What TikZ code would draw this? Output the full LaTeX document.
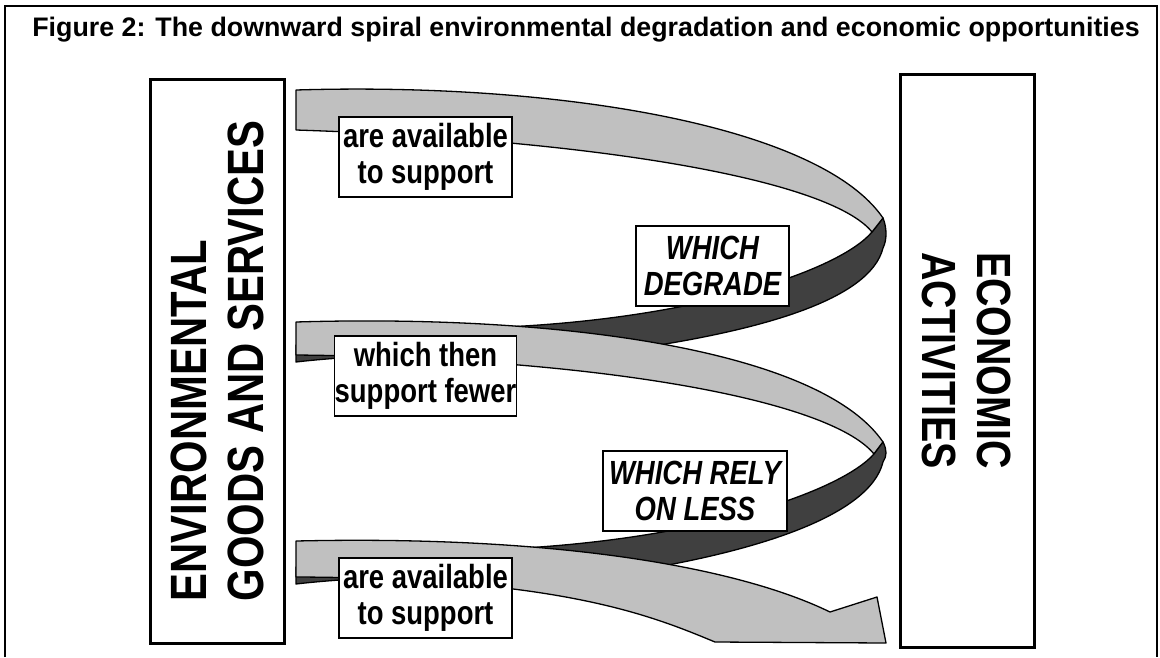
\documentclass[tikz,border=0pt]{standalone}
\usepackage{fontspec}
\setmainfont{Liberation Sans}
\newfontfamily\narrowfont[FakeStretch=0.82]{Liberation Sans}
\definecolor{ribbonlight}{HTML}{C0C0C0}
\definecolor{ribbondark}{HTML}{404040}

\begin{document}
\begin{tikzpicture}[x=1pt, y=-1pt,
  bigbox/.style={shape=rectangle, draw, line width=3pt, align=left, inner sep=0pt, minimum height=134pt},
  tag/.style={shape=rectangle, draw, fill=white, line width=1.3pt, align=center, inner sep=0pt, minimum height=80pt, font=\narrowfont\bfseries\fontsize{33.5}{36}\selectfont},
  frontface/.style={fill=ribbonlight, draw=black, line width=1.3pt, line join=round},
  backface/.style={fill=ribbondark, draw=black, line width=1.3pt, line join=round}]

\useasboundingbox (0,0) rectangle (1160,657);

% frame and title
\draw[line width=2pt] (5,657) -- (5,6) -- (1157,6) -- (1157,657);
\node[anchor=base, font=\bfseries\fontsize{26.8}{30}\selectfont] (title) at (586,36) {Figure 2: The downward spiral environmental degradation and economic opportunities};

% the two sides
\node[bigbox, rotate=90, minimum width=564pt, font=\narrowfont\bfseries\fontsize{51}{57}\selectfont] (env) at (217,361) {ENVIRONMENTAL\\GOODS AND SERVICES};
\node[bigbox, rotate=-90, minimum width=573pt, font=\narrowfont\bfseries\fontsize{48}{55}\selectfont] (econ) at (967,360.5) {ECONOMIC\\ACTIVITIES};

% first turn of the ribbon
\filldraw[backface] (883,218) .. controls (887,228) and (887,240) .. (883,248)
  .. controls (870,300) and (760,330) .. (640,348) -- (505,332) -- (505,327)
  .. controls (700,318) and (840,270) .. (872,232) -- cycle;
\filldraw[frontface] (296,90) .. controls (560,82) and (820,126) .. (883,218) -- (872,232)
  .. controls (830,180) and (600,140) .. (296,130) -- cycle;

% second turn
\filldraw[backface] (296,345) -- (296,362) .. controls (330,358) and (380,355) .. (430,354) -- (430,345) -- cycle;
\filldraw[frontface] (296,322) .. controls (560,314) and (820,350) .. (883,442) -- (874,454)
  .. controls (830,400) and (600,358) .. (296,355) -- cycle;
\filldraw[backface] (883,442) .. controls (887,450) and (887,456) .. (883,462)
  .. controls (870,515) and (760,550) .. (640,570) -- (505,555) -- (505,549)
  .. controls (700,540) and (840,492) .. (874,454) -- cycle;

% last turn with the arrow head
\filldraw[backface] (296,567) -- (296,584) .. controls (330,580) and (380,577) .. (430,576) -- (430,567) -- cycle;
\filldraw[frontface] (296,541) .. controls (560,535) and (740,568) .. (830,612) -- (877,597) -- (886,643) -- (715,642)
  .. controls (650,615) and (560,578) .. (296,577) -- cycle;

% labels on the ribbon
\node[tag, minimum width=173pt] (avail1) at (425.5,157) {are available\\to support};
\node[tag, minimum width=153pt, font=\narrowfont\bfseries\itshape\fontsize{33.5}{36}\selectfont] (degrade) at (712.5,266) {WHICH\\DEGRADE};
\node[tag, minimum width=173pt] (fewer) at (425.5,376) {which then\\support fewer};
\node[tag, minimum width=184pt, font=\narrowfont\bfseries\itshape\fontsize{33.5}{36}\selectfont] (relyless) at (695,491) {WHICH RELY\\ON LESS};
\node[tag, minimum width=173pt] (avail2) at (425.5,598) {are available\\to support};
\end{tikzpicture}
\end{document}
